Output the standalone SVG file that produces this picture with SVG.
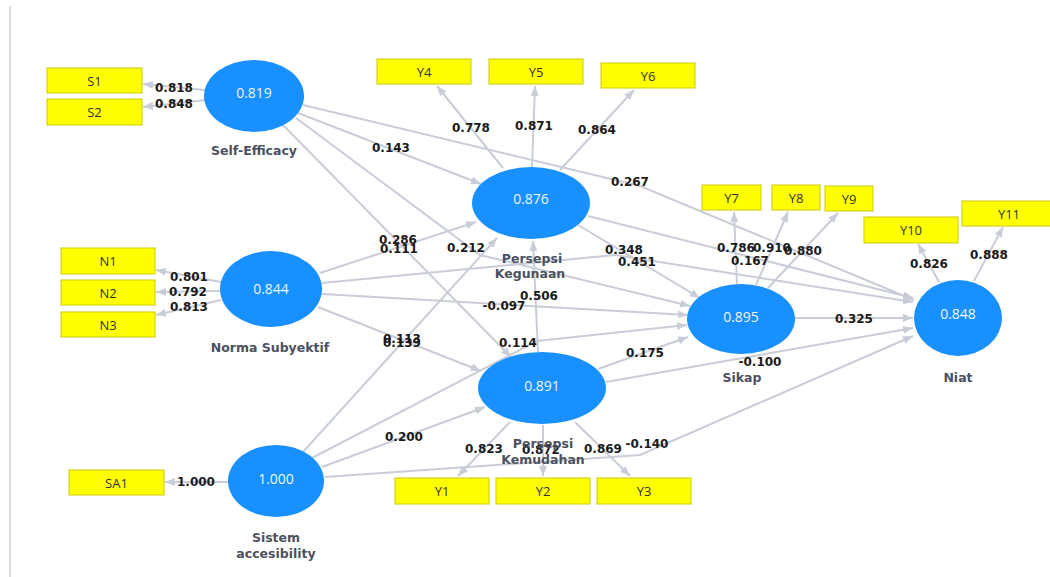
<svg xmlns="http://www.w3.org/2000/svg" width="1050" height="577" viewBox="0 0 1050 577">
<style>
.ln{fill:none;stroke:#c9cdd8;stroke-width:2;marker-end:url(#ah)}
.ell{fill:#1890ff}
.val{font-family:"Open Sans","Noto Sans",sans-serif;font-size:14px;fill:#eef5ff;text-anchor:middle;dominant-baseline:central}
.nm{font-family:"DejaVu Sans",sans-serif;font-weight:bold;font-size:12.5px;fill:#4a5160;text-anchor:middle;dominant-baseline:central}
.box{fill:#ffff00;stroke:#cccc00;stroke-width:1}
.bt{font-family:"Open Sans","Noto Sans",sans-serif;font-size:13px;fill:#333;text-anchor:middle;dominant-baseline:central}
.pl{font-family:"DejaVu Sans",sans-serif;font-weight:bold;font-size:12px;fill:#1a1a1a;text-anchor:middle;dominant-baseline:central}
</style>
<defs>
<marker id="ah" viewBox="0 0 10 8" refX="10" refY="4" markerWidth="10" markerHeight="8" markerUnits="userSpaceOnUse" orient="auto"><path d="M0,0 L10,4 L0,8 z" fill="#c9cdd8"/></marker>
</defs>
<rect width="1050" height="577" fill="#ffffff"/>
<line x1="10" y1="6" x2="10" y2="577" stroke="#d9dce5" stroke-width="2"/>
<g id="connectors">
<line class="ln" x1="205" y1="90" x2="143" y2="84"/>
<line class="ln" x1="206" y1="100" x2="143" y2="107"/>
<line class="ln" x1="221" y1="282" x2="156" y2="270"/>
<line class="ln" x1="220" y1="291" x2="156" y2="292"/>
<line class="ln" x1="221" y1="300" x2="156" y2="315"/>
<line class="ln" x1="228" y1="482" x2="165" y2="482"/>
<line class="ln" x1="503" y1="168" x2="437" y2="86"/>
<line class="ln" x1="532" y1="167" x2="535" y2="86"/>
<line class="ln" x1="560" y1="170" x2="634" y2="90"/>
<line class="ln" x1="737" y1="284" x2="734" y2="212"/>
<line class="ln" x1="756" y1="285" x2="788" y2="212"/>
<line class="ln" x1="768" y1="288" x2="838" y2="213"/>
<line class="ln" x1="939" y1="282" x2="918" y2="244"/>
<line class="ln" x1="974" y1="281" x2="1003" y2="227"/>
<line class="ln" x1="510" y1="422" x2="458" y2="476"/>
<line class="ln" x1="543" y1="425" x2="543" y2="476"/>
<line class="ln" x1="575" y1="422" x2="630" y2="476"/>
<line class="ln" x1="298" y1="113" x2="481" y2="184"/>
<line class="ln" x1="283" y1="125" x2="511" y2="357"/>
<polyline class="ln" points="296,118 480,255 690,306"/>
<polyline class="ln" points="303,105 640,186 914,300"/>
<line class="ln" x1="320" y1="273" x2="476" y2="222"/>
<line class="ln" x1="318" y1="307" x2="481" y2="371"/>
<line class="ln" x1="322" y1="294" x2="688" y2="315"/>
<polyline class="ln" points="322,283 615,255 913,302"/>
<line class="ln" x1="302" y1="453" x2="497" y2="238"/>
<line class="ln" x1="322" y1="467" x2="485" y2="407"/>
<polyline class="ln" points="312,458 537,341 687,325"/>
<polyline class="ln" points="325,477 640,455 913,336"/>
<line class="ln" x1="538" y1="352" x2="533" y2="241"/>
<line class="ln" x1="598" y1="369" x2="688" y2="337"/>
<line class="ln" x1="606" y1="382" x2="913" y2="328"/>
<line class="ln" x1="578" y1="225" x2="700" y2="298"/>
<line class="ln" x1="588" y1="216" x2="913" y2="298"/>
<line class="ln" x1="795" y1="318" x2="913" y2="318"/>
</g>
<g id="labels">
<text class="pl" x="174" y="88">0.818</text>
<text class="pl" x="174" y="104">0.848</text>
<text class="pl" x="189" y="277">0.801</text>
<text class="pl" x="188" y="292">0.792</text>
<text class="pl" x="189" y="307">0.813</text>
<text class="pl" x="196" y="482">1.000</text>
<text class="pl" x="471" y="128">0.778</text>
<text class="pl" x="534" y="126">0.871</text>
<text class="pl" x="597" y="130">0.864</text>
<text class="pl" x="391" y="148">0.143</text>
<text class="pl" x="630" y="182">0.267</text>
<text class="pl" x="398" y="240">0.286</text>
<text class="pl" x="399" y="249">0.111</text>
<text class="pl" x="466" y="248">0.212</text>
<text class="pl" x="624" y="250">0.348</text>
<text class="pl" x="637" y="262">0.451</text>
<text class="pl" x="539" y="296">0.506</text>
<text class="pl" x="504" y="306">-0.097</text>
<text class="pl" x="402" y="339">0.113</text>
<text class="pl" x="402" y="343">0.139</text>
<text class="pl" x="518" y="343">0.114</text>
<text class="pl" x="645" y="353">0.175</text>
<text class="pl" x="404" y="437">0.200</text>
<text class="pl" x="484" y="449">0.823</text>
<text class="pl" x="541" y="450">0.872</text>
<text class="pl" x="603" y="449">0.869</text>
<text class="pl" x="647" y="444">-0.140</text>
<text class="pl" x="736" y="248">0.786</text>
<text class="pl" x="772" y="248">0.910</text>
<text class="pl" x="803" y="251">0.880</text>
<text class="pl" x="750" y="261">0.167</text>
<text class="pl" x="929" y="264">0.826</text>
<text class="pl" x="989" y="255">0.888</text>
<text class="pl" x="854" y="319">0.325</text>
<text class="pl" x="760" y="362">-0.100</text>
</g>
<g id="S1"><rect class="box" x="47" y="68" width="95" height="25"/><text class="bt" x="94.5" y="80.5">S1</text></g>
<g id="S2"><rect class="box" x="47" y="99" width="95" height="26"/><text class="bt" x="94.5" y="112">S2</text></g>
<g id="N1"><rect class="box" x="61" y="248" width="94" height="26"/><text class="bt" x="108" y="261">N1</text></g>
<g id="N2"><rect class="box" x="61" y="280" width="94" height="25"/><text class="bt" x="108" y="292.5">N2</text></g>
<g id="N3"><rect class="box" x="61" y="312" width="94" height="25"/><text class="bt" x="108" y="324.5">N3</text></g>
<g id="SA1"><rect class="box" x="69" y="470" width="95" height="25"/><text class="bt" x="116.5" y="482.5">SA1</text></g>
<g id="Y4"><rect class="box" x="377" y="59" width="94" height="25"/><text class="bt" x="424" y="71.5">Y4</text></g>
<g id="Y5"><rect class="box" x="489" y="59" width="94" height="25"/><text class="bt" x="536" y="71.5">Y5</text></g>
<g id="Y6"><rect class="box" x="601" y="63" width="94" height="25"/><text class="bt" x="648" y="75.5">Y6</text></g>
<g id="Y7"><rect class="box" x="702" y="185" width="59" height="25"/><text class="bt" x="731.5" y="197.5">Y7</text></g>
<g id="Y8"><rect class="box" x="772" y="185" width="48" height="25"/><text class="bt" x="796" y="197.5">Y8</text></g>
<g id="Y9"><rect class="box" x="825" y="186" width="48" height="25"/><text class="bt" x="849" y="198.5">Y9</text></g>
<g id="Y10"><rect class="box" x="864" y="217" width="94" height="26"/><text class="bt" x="911" y="230">Y10</text></g>
<g id="Y11"><rect class="box" x="962" y="201" width="95" height="25"/><text class="bt" x="1009" y="213.5">Y11</text></g>
<g id="Y1"><rect class="box" x="395" y="478" width="94" height="26"/><text class="bt" x="442" y="491">Y1</text></g>
<g id="Y2"><rect class="box" x="496" y="478" width="94" height="26"/><text class="bt" x="543" y="491">Y2</text></g>
<g id="Y3"><rect class="box" x="597" y="478" width="94" height="26"/><text class="bt" x="644" y="491">Y3</text></g>
<g id="SelfEfficacy"><ellipse class="ell" cx="254" cy="96" rx="50" ry="36"/><text class="val" x="254" y="92">0.819</text><text class="nm" x="254" y="150">Self-Efficacy</text></g>
<g id="NormaSubyektif"><ellipse class="ell" cx="271" cy="289" rx="51" ry="38"/><text class="val" x="271" y="288">0.844</text><text class="nm" x="270" y="347">Norma Subyektif</text></g>
<g id="SistemAccesibility"><ellipse class="ell" cx="276" cy="481" rx="48" ry="36"/><text class="val" x="276" y="478">1.000</text><text class="nm" x="276" y="537">Sistem</text><text class="nm" x="276" y="553">accesibility</text></g>
<g id="PersepsiKegunaan"><ellipse class="ell" cx="531" cy="203" rx="59" ry="36"/><text class="val" x="531" y="198">0.876</text><text class="nm" x="532" y="258">Persepsi</text><text class="nm" x="530" y="273">Kegunaan</text></g>
<g id="PersepsiKemudahan"><ellipse class="ell" cx="542" cy="388" rx="64" ry="36"/><text class="val" x="542" y="385">0.891</text><text class="nm" x="543" y="443">Persepsi</text><text class="nm" x="543" y="459">Kemudahan</text></g>
<g id="Sikap"><ellipse class="ell" cx="741" cy="319" rx="54" ry="35"/><text class="val" x="741" y="316">0.895</text><text class="nm" x="742" y="377">Sikap</text></g>
<g id="Niat"><ellipse class="ell" cx="958" cy="318" rx="44" ry="38"/><text class="val" x="958" y="313">0.848</text><text class="nm" x="958" y="377">Niat</text></g>
</svg>
